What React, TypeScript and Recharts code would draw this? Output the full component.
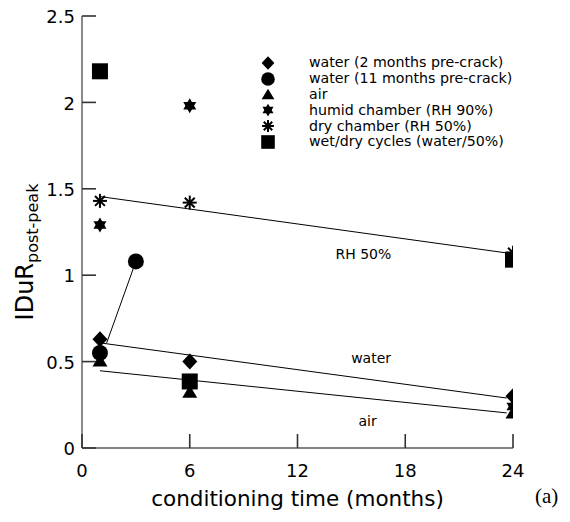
import React from 'react';
import { ComposedChart, Scatter, XAxis, YAxis, Legend, Label } from 'recharts';

// measured series (x = months of conditioning, y = IDuR post-peak)
const water2Months = [1, 6, 24];
const water2Values = [0.63, 0.5, 0.3];
const water11Months = [1, 3];
const water11Values = [0.55, 1.08];
const airMonths = [1, 6, 24];
const airValues = [0.5, 0.32, 0.2];
const humidMonths = [1, 6, 24];
const humidValues = [1.29, 1.98, 0.24];
const dryMonths = [1, 6, 24];
const dryValues = [1.43, 1.42, 1.13];
const wetDryMonths = [1, 6, 24];
const wetDryValues = [2.18, 0.385, 1.09];

// trend lines
const rh50FitX = [1, 23.7];
const rh50FitY = [1.455, 1.128];
const waterFitX = [1.17, 23.65];
const waterFitY = [0.606, 0.289];
const airFitX = [1, 23.65];
const airFitY = [0.447, 0.203];
const crackLinkX = [1.37, 3];
const crackLinkY = [0.607, 1.08];

// text notes inside the plot
const noteText = ['RH 50%', 'water', 'air'];
const noteX = [15.67, 16.1, 15.9];
const noteY = [1.123, 0.52, 0.156];

const xTicks = [0, 6, 12, 18, 24];
const yTicks = [0, 0.5, 1, 1.5, 2, 2.5];

const toPoints = (xs: number[], ys: number[]) => xs.map((x, i) => ({ x, y: ys[i] }));

const FONT = 'DejaVu Sans';
const AXIS = '#5a5a5a';
const TICK_COLOR = '#333333';
const TICK_LEN = 14;

type Sym = 'diamond' | 'circle' | 'triangle' | 'hexagram' | 'asterisk' | 'square';

const Marker = ({ cx, cy, kind, s = 1 }: { cx: number; cy: number; kind: Sym; s?: number }) => {
  if (cx == null || cy == null) return <g />;
  switch (kind) {
    case 'diamond':
      return <path d={`M${cx},${cy - 8 * s}L${cx + 7.5 * s},${cy}L${cx},${cy + 8 * s}L${cx - 7.5 * s},${cy}Z`} fill="#000" />;
    case 'circle':
      return <circle cx={cx} cy={cy} r={8 * s} fill="#000" />;
    case 'triangle':
      return <path d={`M${cx},${cy - 7.5 * s}L${cx + 7.5 * s},${cy + 5 * s}L${cx - 7.5 * s},${cy + 5 * s}Z`} fill="#000" />;
    case 'hexagram': {
      const r = 7.5 * s;
      const pt = (a: number) => `${cx + r * Math.cos((a * Math.PI) / 180)},${cy + r * Math.sin((a * Math.PI) / 180)}`;
      return (
        <g fill="#000">
          <path d={`M${pt(-90)}L${pt(30)}L${pt(150)}Z`} />
          <path d={`M${pt(90)}L${pt(210)}L${pt(330)}Z`} />
        </g>
      );
    }
    case 'asterisk': {
      const r = 7 * s;
      const d = r * Math.SQRT1_2;
      return (
        <g stroke="#000" strokeWidth={2}>
          <line x1={cx - r} y1={cy} x2={cx + r} y2={cy} />
          <line x1={cx} y1={cy - r} x2={cx} y2={cy + r} />
          <line x1={cx - d} y1={cy - d} x2={cx + d} y2={cy + d} />
          <line x1={cx - d} y1={cy + d} x2={cx + d} y2={cy - d} />
        </g>
      );
    }
    default:
      return <rect x={cx - 8 * s} y={cy - 8 * s} width={16 * s} height={16 * s} fill="#000" />;
  }
};

const legendItems: { name: string; kind: Sym }[] = [
  { name: 'water (2 months pre-crack)', kind: 'diamond' },
  { name: 'water (11 months pre-crack)', kind: 'circle' },
  { name: 'air', kind: 'triangle' },
  { name: 'humid chamber (RH 90%)', kind: 'hexagram' },
  { name: 'dry chamber (RH 50%)', kind: 'asterisk' },
  { name: 'wet/dry cycles (water/50%)', kind: 'square' },
];

const LegendBox = () => (
  <div style={{ fontFamily: FONT, fontSize: 14.2, color: '#000' }}>
    {legendItems.map((it) => (
      <div key={it.name} style={{ display: 'flex', alignItems: 'center', height: 15.8 }}>
        <svg width={20} height={16} style={{ marginRight: 31, overflow: 'visible' }}>
          <Marker cx={10} cy={8} kind={it.kind} s={0.85} />
        </svg>
        <span style={{ whiteSpace: 'nowrap', lineHeight: '15px' }}>{it.name}</span>
      </div>
    ))}
  </div>
);

// tick labels outside, tick marks pointing into the plot
const renderYTick = (props: any) => {
  const { x, y, payload } = props;
  const ax = Number(x) + 7;
  return (
    <g key={`yt-${payload.value}`}>
      <line x1={ax} y1={y} x2={ax + TICK_LEN} y2={y} stroke={TICK_COLOR} strokeWidth={1.6} />
      <text x={x} y={y} dy="0.4em" textAnchor="end" fontFamily={FONT} fontSize={18} fill="#000">
        {payload.value}
      </text>
    </g>
  );
};

const renderXTick = (props: any) => {
  const { x, y, payload } = props;
  const ay = Number(y) - 16;
  return (
    <g key={`xt-${payload.value}`}>
      <line x1={x} y1={ay} x2={x} y2={ay - TICK_LEN} stroke={TICK_COLOR} strokeWidth={1.6} />
      <text x={x} y={y} dy="0.72em" textAnchor="middle" fontFamily={FONT} fontSize={18} fill="#000">
        {payload.value}
      </text>
    </g>
  );
};

const YTitle = (props: any) => {
  const vb = props.viewBox || {};
  const cy = vb.y + vb.height / 2 + 20;
  const bx = 33;
  return (
    <text transform={`rotate(-90 ${bx} ${cy})`} x={bx} y={cy} textAnchor="middle" fontFamily={FONT} fill="#000">
      <tspan fontSize={24}>IDuR</tspan>
      <tspan fontSize={16} dy={5}>post-peak</tspan>
    </text>
  );
};

const NoteShape = (props: any) => (
  <text x={props.cx} y={props.cy} dy="0.35em" textAnchor="middle" fontFamily={FONT} fontSize={14} fill="#000">
    {props.payload.label}
  </text>
);

const Empty = () => <g />;

export default function App() {
  const notes = noteText.map((label, i) => ({ x: noteX[i], y: noteY[i], label }));
  const fitLine = { stroke: '#000', strokeWidth: 1 };
  return (
    <div style={{ position: 'absolute', left: 0, top: 0, width: 570, height: 522, background: '#fff' }}>
      <ComposedChart width={570} height={522} margin={{ top: 16, right: 57, bottom: 0, left: 0 }}>
        <XAxis
          type="number"
          dataKey="x"
          domain={[0, 24]}
          ticks={xTicks}
          allowDataOverflow
          height={74}
          axisLine={{ stroke: AXIS, strokeWidth: 1.4 }}
          tickLine={false}
          tickSize={0}
          tickMargin={16}
          tick={renderXTick}
        >
          <Label value="conditioning time (months)" position="insideBottom" offset={16} fontSize={21.5} fontFamily={FONT} fill="#000" />
        </XAxis>
        <YAxis
          type="number"
          dataKey="y"
          domain={[0, 2.5]}
          ticks={yTicks}
          allowDataOverflow
          width={82}
          axisLine={{ stroke: AXIS, strokeWidth: 1.4 }}
          tickLine={false}
          tickSize={0}
          tickMargin={7}
          tick={renderYTick}
          label={<YTitle />}
        />
        <Legend
          layout="vertical"
          align="center"
          verticalAlign="middle"
          content={() => <LegendBox />}
          wrapperStyle={{ left: 258, top: 55, width: 300 }}
        />
        <Scatter data={toPoints(rh50FitX, rh50FitY)} line={fitLine} shape={<Empty />} isAnimationActive={false} legendType="none" />
        <Scatter data={toPoints(waterFitX, waterFitY)} line={fitLine} shape={<Empty />} isAnimationActive={false} legendType="none" />
        <Scatter data={toPoints(airFitX, airFitY)} line={fitLine} shape={<Empty />} isAnimationActive={false} legendType="none" />
        <Scatter data={toPoints(crackLinkX, crackLinkY)} line={fitLine} shape={<Empty />} isAnimationActive={false} legendType="none" />
        <Scatter data={notes} shape={<NoteShape />} isAnimationActive={false} legendType="none" />
        <Scatter data={toPoints(humidMonths, humidValues)} shape={(p: any) => <Marker cx={p.cx} cy={p.cy} kind="hexagram" />} isAnimationActive={false} />
        <Scatter data={toPoints(dryMonths, dryValues)} shape={(p: any) => <Marker cx={p.cx} cy={p.cy} kind="asterisk" />} isAnimationActive={false} />
        <Scatter data={toPoints(airMonths, airValues)} shape={(p: any) => <Marker cx={p.cx} cy={p.cy} kind="triangle" />} isAnimationActive={false} />
        <Scatter data={toPoints(water11Months, water11Values)} shape={(p: any) => <Marker cx={p.cx} cy={p.cy} kind="circle" />} isAnimationActive={false} />
        <Scatter data={toPoints(water2Months, water2Values)} shape={(p: any) => <Marker cx={p.cx} cy={p.cy} kind="diamond" />} isAnimationActive={false} />
        <Scatter data={toPoints(wetDryMonths, wetDryValues)} shape={(p: any) => <Marker cx={p.cx} cy={p.cy} kind="square" />} isAnimationActive={false} />
      </ComposedChart>
      <div style={{ position: 'absolute', left: 535, top: 484, fontFamily: 'Liberation Serif', fontSize: 21, lineHeight: '24px' }}>(a)</div>
    </div>
  );
}
